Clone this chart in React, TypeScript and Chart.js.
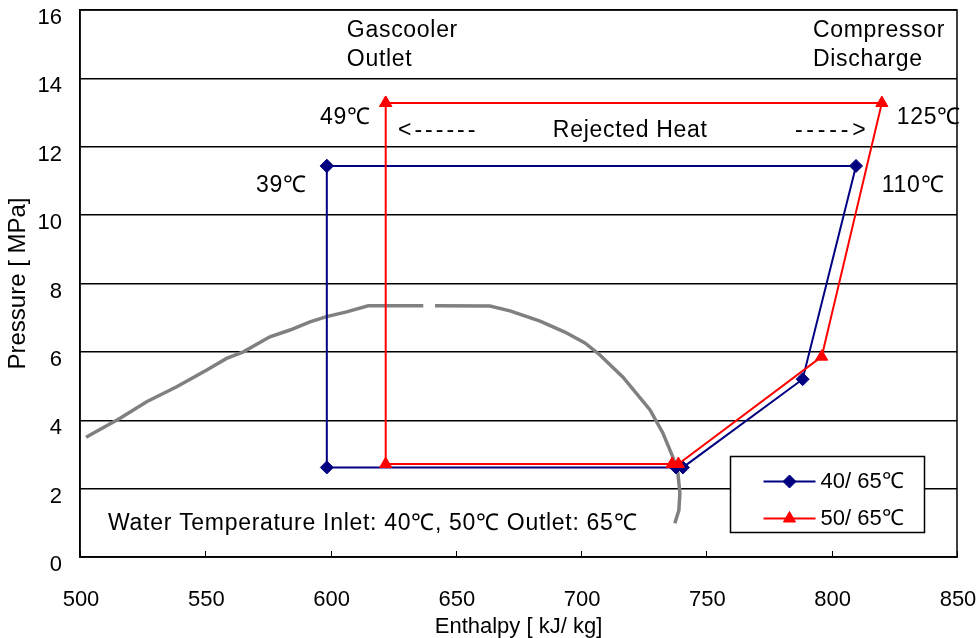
import React, { useEffect, useRef } from 'react';
import { Chart, registerables } from 'chart.js';
import { drawPoint } from 'chart.js/helpers';

Chart.register(...registerables);

// ---- axis ranges / ticks ----
const X_MIN = 500;
const X_MAX = 850;
const X_STEP = 50;
const Y_MIN = 0;
const Y_MAX = 16;
const Y_STEP = 2;

const X_TITLE = 'Enthalpy [ kJ/ kg]';
const Y_TITLE = 'Pressure [ MPa]';

// ---- series 1: 40/65 °C ----
const s1Label = '40/ 65℃';
const s1Enthalpy = [598.5, 598.5, 737.8, 740.6, 788.4, 809.7, 598.5];
const s1Pressure = [11.44, 2.62, 2.62, 2.62, 5.2, 11.44, 11.44];

// ---- series 2: 50/65 °C ----
const s2Label = '50/ 65℃';
const s2Enthalpy = [622.0, 622.0, 736.3, 738.8, 796.0, 820.0, 622.0];
const s2Pressure = [13.28, 2.72, 2.72, 2.72, 5.86, 13.28, 13.28];

// ---- saturation dome (gap marked with null) ----
const domeEnthalpy = [
  502.4, 516.0, 526.6, 538.6, 550.6, 558.5, 565.2, 575.8, 583.8, 591.8, 598.4, 606.4, 615.0, 637.0,
  639.5,
  641.7, 663.6, 671.6, 683.6, 693.5, 701.5, 707.5, 716.7, 727.5, 732.6, 736.6, 738.6, 739.4, 739.0, 737.4,
];
const domePressure = [
  3.5, 4.06, 4.54, 4.98, 5.47, 5.81, 6.0, 6.44, 6.64, 6.88, 7.03, 7.17, 7.35, 7.35,
  null,
  7.35, 7.34, 7.2, 6.9, 6.58, 6.26, 5.91, 5.26, 4.3, 3.63, 2.92, 2.46, 1.87, 1.37, 0.99,
];

// ---- annotation texts (anchored in data coordinates, left-aligned) ----
const noteTexts = [
  'Gascooler', 'Outlet', 'Compressor', 'Discharge',
  '49℃', '39℃', '125℃', '110℃',
  '<------', 'Rejected Heat', '----->',
  'Water Temperature Inlet: 40℃, 50℃ Outlet: 65℃',
];
const noteX = [606.5, 606.5, 792.5, 792.5, 595.8, 570.2, 826.0, 820.0, 626.9, 688.7, 785.3, 511.2];
const noteY = [15.41, 14.54, 15.41, 14.54, 12.84, 10.85, 12.84, 10.85, 12.46, 12.46, 12.46, 0.97];

const FONT_FAMILY = "'Liberation Sans', Arial, Helvetica, sans-serif";
const FONT_SIZE = 22;
const NOTE_SIZE = 23;

const toPoints = (xs: number[], ys: (number | null)[]) => xs.map((x, i) => ({ x, y: ys[i] }));

const framePlugin = {
  id: 'frameAndTicks',
  afterDatasetsDraw(chart: any) {
    const { ctx, chartArea, scales } = chart;
    const xs = scales.x;
    const ys = scales.y;
    ctx.save();
    ctx.strokeStyle = '#000';
    ctx.lineWidth = 1.5;
    ctx.strokeRect(chartArea.left, chartArea.top, chartArea.right - chartArea.left, chartArea.bottom - chartArea.top);
    // inner tick marks on x axis
    for (let v = X_MIN; v <= X_MAX; v += X_STEP) {
      const px = Math.round(xs.getPixelForValue(v)) + 0.5;
      ctx.lineWidth = 1;
      ctx.beginPath();
      ctx.moveTo(px, chartArea.bottom);
      ctx.lineTo(px, chartArea.bottom - 6);
      ctx.stroke();
    }
    // annotations
    ctx.fillStyle = '#000';
    ctx.font = `${NOTE_SIZE}px ${FONT_FAMILY}`;
    ctx.textAlign = 'left';
    ctx.textBaseline = 'middle';
    noteTexts.forEach((t, i) => {
      let spacing = '0.7px';
      if (t.startsWith('<-')) spacing = '3px';
      else if (t.endsWith('->')) spacing = '3.8px';
      (ctx as any).letterSpacing = spacing;
      ctx.fillText(t, xs.getPixelForValue(noteX[i]), ys.getPixelForValue(noteY[i]));
    });
    (ctx as any).letterSpacing = '0px';
    // legend box
    const bx = Math.round(xs.getPixelForValue(759.5)) + 0.5;
    const by = Math.round(ys.getPixelForValue(2.96)) + 0.5;
    const bw = 194;
    const bh = 76;
    ctx.fillStyle = '#fff';
    ctx.fillRect(bx, by, bw, bh);
    ctx.lineWidth = 1.5;
    ctx.strokeStyle = '#000';
    ctx.strokeRect(bx, by, bw, bh);
    const items = chart.data.datasets.slice(1);
    items.forEach((ds: any, i: number) => {
      const cy = by + 25 + i * 37;
      const lx0 = bx + 33;
      const lx1 = bx + 85;
      ctx.strokeStyle = ds.borderColor;
      ctx.lineWidth = ds.borderWidth;
      ctx.beginPath();
      ctx.moveTo(lx0, cy);
      ctx.lineTo(lx1, cy);
      ctx.stroke();
      ctx.fillStyle = ds.backgroundColor;
      ctx.strokeStyle = ds.borderColor;
      ctx.lineWidth = 1;
      drawPoint(ctx, { pointStyle: ds.pointStyle, radius: ds.pointRadius, rotation: 0, borderWidth: 1 }, (lx0 + lx1) / 2, cy);
      ctx.fillStyle = '#000';
      ctx.font = `${FONT_SIZE}px ${FONT_FAMILY}`;
      ctx.fillText(ds.label, bx + 90, cy);
    });
    ctx.restore();
  },
};

export default function App() {
  const ref = useRef<HTMLCanvasElement>(null);
  useEffect(() => {
    const canvas = ref.current;
    if (!canvas) return;
    const tickFont = { family: FONT_FAMILY, size: FONT_SIZE, lineHeight: 1 };
    const chart = new Chart(canvas, {
      type: 'scatter',
      data: {
        datasets: [
          {
            label: 'saturation',
            data: toPoints(domeEnthalpy, domePressure),
            showLine: true,
            spanGaps: false,
            borderColor: '#808080',
            backgroundColor: '#808080',
            borderWidth: 3.5,
            pointRadius: 0,
            order: 3,
          },
          {
            label: s1Label,
            data: toPoints(s1Enthalpy, s1Pressure),
            showLine: true,
            borderColor: '#000080',
            backgroundColor: '#000080',
            borderWidth: 2,
            pointStyle: 'rectRot',
            pointRadius: 6.5,
            pointBorderWidth: 1,
            order: 2,
          },
          {
            label: s2Label,
            data: toPoints(s2Enthalpy, s2Pressure),
            showLine: true,
            borderColor: '#ff0000',
            backgroundColor: '#ff0000',
            borderWidth: 2,
            pointStyle: 'triangle',
            pointRadius: 7,
            pointBorderWidth: 1,
            order: 1,
          },
        ],
      },
      options: {
        animation: false,
        responsive: true,
        maintainAspectRatio: false,
        layout: { padding: { top: 10, right: 20, left: 0, bottom: 0 } },
        plugins: { legend: { display: false }, tooltip: { enabled: false } },
        events: [],
        scales: {
          x: {
            type: 'linear',
            min: X_MIN,
            max: X_MAX,
            ticks: { stepSize: X_STEP, color: '#000', font: tickFont, padding: 32, maxRotation: 0, labelOffset: 1 },
            grid: { display: false, drawTicks: false },
            border: { display: true, color: '#000', width: 1.5 },
            title: { display: true, text: X_TITLE, color: '#000', font: tickFont, padding: { top: 0, bottom: 0 } },
            afterFit: (s: any) => {
              s.height = 81;
              s.paddingLeft = 0;
              s.paddingRight = 0;
            },
          },
          y: {
            type: 'linear',
            min: Y_MIN,
            max: Y_MAX,
            ticks: { stepSize: Y_STEP, color: '#000', font: { ...tickFont, lineHeight: 0.9 }, padding: 18, labelOffset: 8 },
            grid: { color: '#000', lineWidth: 1.5, drawTicks: false },
            border: { display: true, color: '#000', width: 1.5 },
            title: {
              display: true,
              text: Y_TITLE,
              color: '#000',
              font: { family: FONT_FAMILY, size: 24, lineHeight: 1 },
              padding: { top: 6, bottom: 0 },
            },
            afterFit: (s: any) => {
              s.width = 80;
              s.paddingTop = 0;
              s.paddingBottom = 0;
            },
          },
        },
      },
      plugins: [framePlugin],
    });
    return () => chart.destroy();
  }, []);
  return (
    <div style={{ position: 'fixed', left: 0, top: 0, width: 977, height: 638, background: '#fff' }}>
      <canvas ref={ref} />
    </div>
  );
}
